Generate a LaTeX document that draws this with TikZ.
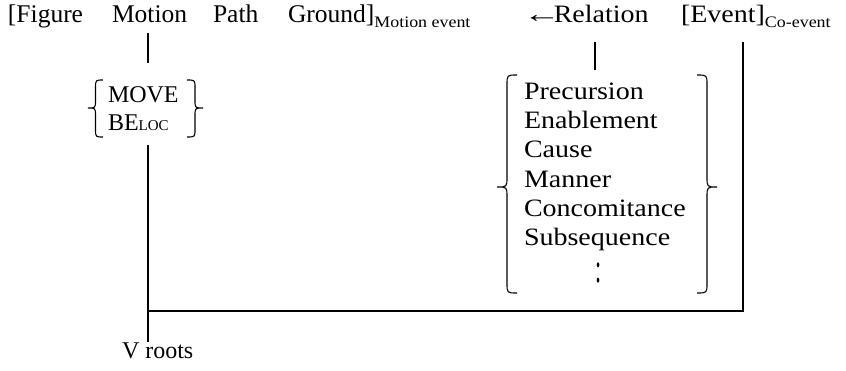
\documentclass[tikz,border=0pt]{standalone}
\usepackage{fontspec}
\setmainfont{Liberation Serif}
\newfontfamily\widefont[FakeStretch=1.12]{Liberation Serif}
\begin{document}
\begin{tikzpicture}[x=1pt,y=-1pt,
  txt/.style={inner sep=0pt, outer sep=0pt, anchor=base west, font=\widefont\fontsize{25}{25}\selectfont},
  top/.style={inner sep=0pt, outer sep=0pt, anchor=base west, font=\fontsize{25.5}{25.5}\selectfont},
  grp/.style={inner sep=0pt, outer sep=0pt, anchor=base west, font=\fontsize{24}{24}\selectfont},
  sub/.style={inner sep=0pt, outer sep=0pt, anchor=base west, font=\widefont\fontsize{16}{16}\selectfont},
  ln/.style={line width=1.3pt, line cap=butt},
  br/.style={line width=1.1pt}]
\useasboundingbox (0,0) rectangle (846,371);
% top row
\node[top] (fig) at (8,23) {[Figure};
\node[top] (mot) at (112,23) {Motion};
\node[top] (pth) at (213,23) {Path};
\node[top] (gr)  at (288,23) {Ground]};
\node[sub] (sub1) at ([yshift=-5pt]gr.base east) {Motion event};
\node[txt] (arr) at (523,23) {\scalebox{1.35}[1]{←}};
\node[txt] (rel) at ([xshift=-7pt]arr.base east) {Relation};
\node[txt] (ev)  at (681,23) {[Event]};
\node[sub] (sub2) at ([yshift=-5pt]ev.base east) {Co-event};
% MOVE / BE_LOC group
\node[grp] (move) at (108,103) {MOVE};
\node[grp] (beloc) at (108,131) {BE{\fontsize{15}{15}\selectfont LOC}};
\draw[br] (103,80) .. controls (95.5,80) .. (95.5,88) -- (95.5,100) .. controls (95.5,108) .. (88,108)
  .. controls (95.5,108) .. (95.5,116) -- (95.5,129) .. controls (95.5,137) .. (103,137);
\draw[br] (187,80) .. controls (195,80) .. (195,88) -- (195,100) .. controls (195,108) .. (203,108)
  .. controls (195,108) .. (195,116) -- (195,129) .. controls (195,137) .. (187,137);
% Relation list
\node[txt] (l1) at (524,100) {Precursion};
\node[txt] (l2) at (524,129) {Enablement};
\node[txt] (l3) at (524,158) {Cause};
\node[txt] (l4) at (524,188) {Manner};
\node[txt] (l5) at (524,217) {Concomitance};
\node[txt] (l6) at (524,246) {Subsequence};
\node[inner sep=0pt, font=\fontsize{22}{22}\selectfont] (dots) at (599,273) {\scalebox{1}[1.9]{:}};
\draw[br] (517,75) .. controls (507,75) .. (507,85) -- (507,177) .. controls (507,187) .. (497,187)
  .. controls (507,187) .. (507,197) -- (507,283) .. controls (507,293) .. (517,293);
\draw[br] (697,75) .. controls (707,75) .. (707,85) -- (707,177) .. controls (707,187) .. (717,187)
  .. controls (707,187) .. (707,197) -- (707,283) .. controls (707,293) .. (697,293);
% V roots
\node[grp] (vr) at (122,358) {V roots};
% connectors
\coordinate (m1) at (148,33);
\coordinate (m2) at (148,63);
\coordinate (m3) at (148,145);
\coordinate (j)  at (148,311);
\coordinate (m4) at (148,342);
\coordinate (r1) at (595,42);
\coordinate (r2) at (595,70);
\coordinate (e1) at (743,42);
\coordinate (c)  at (743,311);
\draw[ln] (m1) -- (m2);
\draw[ln] (m3) -- (m4);
\draw[ln] (r1) -- (r2);
\draw[ln] (e1) -- (c) -- (j);
\end{tikzpicture}
\end{document}
